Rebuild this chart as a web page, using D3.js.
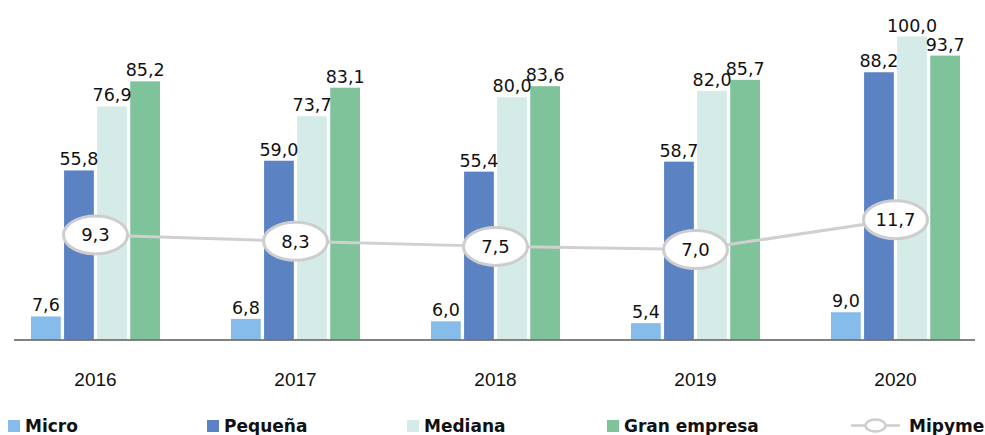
<!DOCTYPE html>
<html>
<head>
<meta charset="utf-8">
<script src="https://cdn.jsdelivr.net/npm/d3@7"></script>
<style>
  body { margin: 0; background: #fff; }
  .val { font-family: "DejaVu Sans", Verdana, sans-serif; font-size: 17.5px; fill: #111; }
  .year { font-family: "Liberation Sans", Arial, sans-serif; font-size: 19px; fill: #111; }
  .leg { font-family: "DejaVu Sans", sans-serif; font-weight: bold; font-size: 17px; fill: #111; }
</style>
</head>
<body>
<div class="chart"></div>
<script>
var years = ["2016", "2017", "2018", "2019", "2020"];
var series = ["Micro", "Pequeña", "Mediana", "Gran empresa"];
var micro = [7.6, 6.8, 6.0, 5.4, 9.0];
var pequena = [55.8, 59.0, 55.4, 58.7, 88.2];
var mediana = [76.9, 73.7, 80.0, 82.0, 100.0];
var gran = [85.2, 83.1, 83.6, 85.7, 93.7];
var mipyme = [9.3, 8.3, 7.5, 7.0, 11.7];
var colors = ["#86bce9", "#5b82c3", "#d5ebe8", "#7fc39a"];

var svgWidth = 985, svgHeight = 435;

var svg = d3.select(".chart")
  .append("svg")
  .attr("width", svgWidth)
  .attr("height", svgHeight);

var allSeries = [micro, pequena, mediana, gran];
var rows = [];
years.forEach(function(y, i) {
  series.forEach(function(s, j) {
    rows.push({year: y, key: s, value: allSeries[j][i], color: colors[j]});
  });
});

var x0 = d3.scaleBand()
  .domain(years)
  .range([-4.5, 995.5])
  .paddingInner(0.355)
  .paddingOuter(0.1775);

var x1 = d3.scaleBand()
  .domain(series)
  .range([0, x0.bandwidth()])
  .paddingInner(0.1);

var y = d3.scaleLinear()
  .domain([0, 100])
  .range([339.5, 36.5]);

// secondary scale for the Mipyme line
var y2 = d3.scaleLinear()
  .domain([0, 20])
  .range([294, 167]);

// bars
svg.selectAll(".bar")
  .data(rows)
  .enter()
  .append("rect")
  .attr("class", "bar")
  .attr("x", d => x0(d.year) + x1(d.key))
  .attr("y", d => y(d.value))
  .attr("width", x1.bandwidth())
  .attr("height", d => y(0) - y(d.value))
  .attr("fill", d => d.color);

// bar labels
svg.selectAll(".val")
  .data(rows)
  .enter()
  .append("text")
  .attr("class", "val")
  .attr("text-anchor", "middle")
  .attr("x", d => x0(d.year) + x1(d.key) + x1.bandwidth() / 2)
  .attr("y", d => y(d.value) - 5)
  .text(d => d3.format(".1f")(d.value).replace(".", ","));

// baseline axis
svg.append("line")
  .attr("x1", 14)
  .attr("x2", 975)
  .attr("y1", y(0) + 0.5)
  .attr("y2", y(0) + 0.5)
  .attr("stroke", "#5a5a5a")
  .attr("stroke-width", 1.6);

// x axis labels
var xAxis = d3.axisBottom(x0).tickSize(0).tickPadding(0);
var gx = svg.append("g")
  .attr("transform", `translate(0, ${y(0)})`)
  .call(xAxis);
gx.select(".domain").remove();
gx.selectAll("text")
  .attr("class", "year")
  .attr("font-size", null)
  .attr("font-family", null)
  .attr("fill", null)
  .attr("dy", null)
  .attr("y", 46.5);

// Mipyme line
var cx = d => x0(d.year) + x0.bandwidth() / 2;
var pts = years.map((yr, i) => ({year: yr, value: mipyme[i]}));

var line = d3.line()
  .x(d => cx(d))
  .y(d => y2(d.value));

svg.append("path")
  .datum(pts)
  .attr("d", line)
  .attr("fill", "none")
  .attr("stroke", "#d0d0d0")
  .attr("stroke-width", 3);

svg.selectAll(".dot")
  .data(pts)
  .enter()
  .append("ellipse")
  .attr("cx", d => cx(d))
  .attr("cy", d => y2(d.value))
  .attr("rx", 32)
  .attr("ry", 19)
  .attr("fill", "#fff")
  .attr("stroke", "#cdcdcd")
  .attr("stroke-width", 3);

svg.selectAll(".dotlabel")
  .data(pts)
  .enter()
  .append("text")
  .attr("class", "val")
  .attr("text-anchor", "middle")
  .attr("x", d => cx(d))
  .attr("y", d => y2(d.value))
  .attr("dy", "0.36em")
  .style("font-size", "18px")
  .text(d => d3.format(".1f")(d.value).replace(".", ","));

// legend
var legX = [8, 207, 407, 607];
series.forEach(function(s, j) {
  svg.append("rect")
    .attr("x", legX[j])
    .attr("y", 420)
    .attr("width", 12)
    .attr("height", 12)
    .attr("fill", colors[j]);
  svg.append("text")
    .attr("class", "leg")
    .attr("x", legX[j] + 17)
    .attr("y", 432)
    .text(s);
});

svg.append("line")
  .attr("x1", 851).attr("x2", 900)
  .attr("y1", 425.5).attr("y2", 425.5)
  .attr("stroke", "#cdcdcd")
  .attr("stroke-width", 2.5);
svg.append("ellipse")
  .attr("cx", 875.5).attr("cy", 425.5)
  .attr("rx", 10).attr("ry", 6)
  .attr("fill", "#fff")
  .attr("stroke", "#cdcdcd")
  .attr("stroke-width", 2.5);
svg.append("text")
  .attr("class", "leg")
  .attr("x", 909)
  .attr("y", 432)
  .text("Mipyme");
</script>
</body>
</html>
